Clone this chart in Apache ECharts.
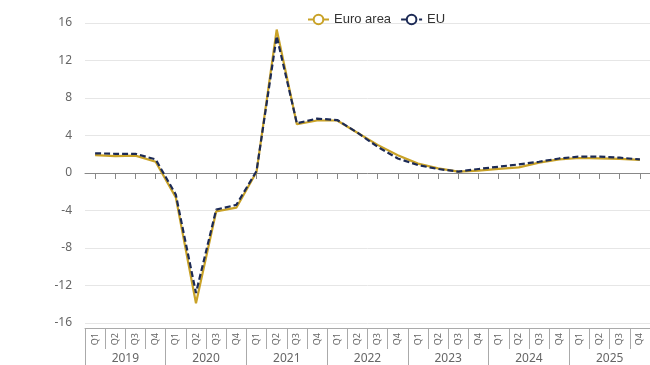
<!DOCTYPE html>
<html>
<head>
<meta charset="utf-8">
<script src="https://cdn.jsdelivr.net/npm/echarts@6/dist/echarts.min.js"></script>
<style>
html,body{margin:0;padding:0;background:#fff;}
#chart{width:650px;height:365px;}
</style>
</head>
<body>
<div id="chart"></div>
<script>
var years = ['2019', '2020', '2021', '2022', '2023', '2024', '2025'];
var quarterNames = ['Q1', 'Q2', 'Q3', 'Q4'];
var euroArea = [1.9, 1.8, 1.85, 1.2, -2.6, -13.9, -4.1, -3.7, 0.1, 15.3, 5.2, 5.6, 5.6, 4.3, 3.0, 1.9, 1.0, 0.5, 0.15, 0.25, 0.45, 0.6, 1.1, 1.45, 1.6, 1.55, 1.5, 1.4];
var eu = [2.1, 2.05, 2.05, 1.45, -2.3, -12.8, -3.9, -3.4, 0.2, 14.6, 5.3, 5.8, 5.65, 4.3, 2.8, 1.55, 0.85, 0.43, 0.15, 0.43, 0.67, 0.92, 1.2, 1.55, 1.75, 1.75, 1.63, 1.45];
var yTicks = {min: -16, max: 16, interval: 4};

var quarterCats = [];
var quarterLabels = [];
years.forEach(function (y) {
  quarterNames.forEach(function (q) {
    quarterCats.push(y + ' ' + q);
    quarterLabels.push(q);
  });
});

var FONT = 'Noto Sans';
var chart = echarts.init(document.getElementById('chart'), null, {renderer: 'canvas'});
chart.setOption({
  animation: false,
  textStyle: {fontFamily: FONT},
  legend: {
    top: 8,
    left: 302,
    itemWidth: 21,
    itemHeight: 12,
    itemGap: 9,
    textStyle: {fontSize: 13, color: '#333', fontFamily: 'Liberation Sans'},
    data: ['Euro area', 'EU']
  },
  grid: {left: 85, right: 0, top: 23, bottom: 42, containLabel: false},
  xAxis: [
    {
      type: 'category',
      data: quarterCats,
      boundaryGap: true,
      axisLine: {onZero: true, lineStyle: {color: '#888', width: 1}},
      axisTick: {show: true, interval: 0, alignWithLabel: true, length: 6, lineStyle: {color: '#888'}},
      axisLabel: {show: false, interval: 0},
      splitLine: {show: false}
    },
    {
      type: 'category',
      data: quarterLabels,
      position: 'bottom',
      offset: 5,
      boundaryGap: true,
      axisLine: {show: true, onZero: false, lineStyle: {color: '#aaa', width: 1}},
      axisTick: {show: true, interval: 0, length: 21, lineStyle: {color: '#aaa'}},
      axisLabel: {show: true, interval: 0, rotate: 90, fontSize: 9, color: '#666', margin: 5, fontFamily: FONT},
      splitLine: {show: false}
    },
    {
      type: 'category',
      data: years,
      position: 'bottom',
      offset: 5,
      boundaryGap: true,
      axisLine: {show: false, onZero: false},
      axisTick: {show: true, interval: 0, length: 37, lineStyle: {color: '#aaa'}},
      axisLabel: {show: true, interval: 0, fontSize: 12, color: '#666', margin: 25, fontFamily: FONT},
      splitLine: {show: false}
    }
  ],
  yAxis: {
    type: 'value',
    min: yTicks.min,
    max: yTicks.max,
    interval: yTicks.interval,
    axisLine: {show: false},
    axisTick: {show: false},
    axisLabel: {color: '#666', fontSize: 12, margin: 13, fontFamily: FONT},
    splitLine: {lineStyle: {color: '#e6e6e6', width: 1}}
  },
  series: [
    {
      name: 'Euro area',
      type: 'line',
      xAxisIndex: 0,
      data: euroArea,
      symbol: 'emptyCircle',
      showSymbol: false,
      symbolSize: 8,
      color: '#c9a227',
      lineStyle: {color: '#c9a227', width: 2.2},
      z: 2
    },
    {
      name: 'EU',
      type: 'line',
      xAxisIndex: 0,
      data: eu,
      symbol: 'emptyCircle',
      showSymbol: false,
      symbolSize: 8,
      color: '#1c2a55',
      lineStyle: {color: '#1c2a55', width: 2.2, type: [6, 3]},
      z: 3
    }
  ]
});
</script>
</body>
</html>
